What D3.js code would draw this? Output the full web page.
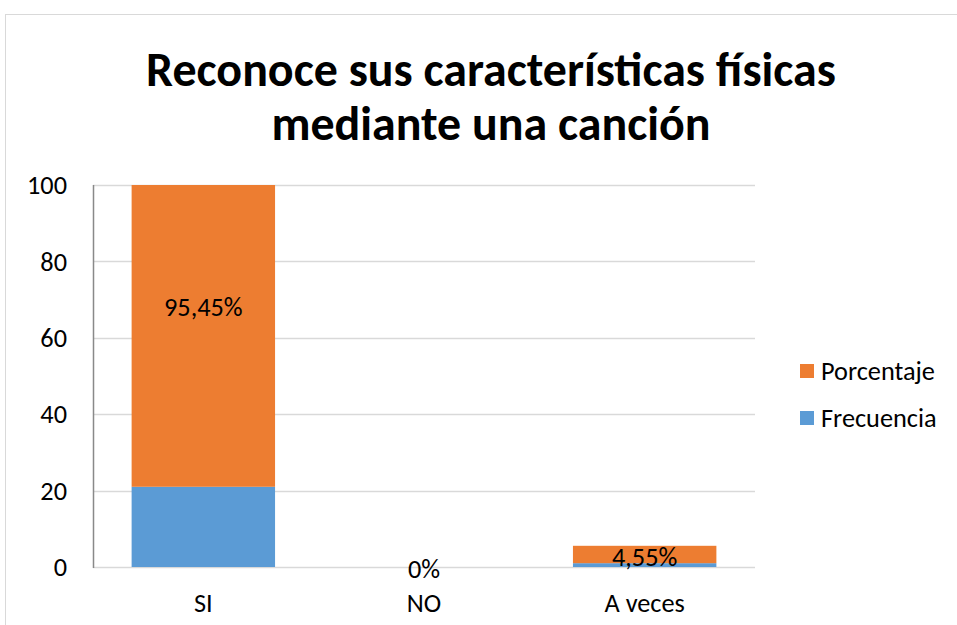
<!DOCTYPE html>
<html>
<head>
<meta charset="utf-8">
<script src="https://cdn.jsdelivr.net/npm/d3@7"></script>
<style>
  html, body { margin: 0; padding: 0; background: #fff; }
  svg { display: block; }
</style>
</head>
<body>
<svg id="chart" width="957" height="625"></svg>
<script>
// Data
const categories = ["SI", "NO", "A veces"];
const frecuencia = [21, 0, 1];
const porcentaje = [95.45, 0, 4.55];
const porcentajeLabels = ["95,45%", "0%", "4,55%"];
const yTicks = [0, 20, 40, 60, 80, 100];
const seriesNames = ["Frecuencia", "Porcentaje"];
const titleLines = ["Reconoce sus características físicas", "mediante una canción"];

const colors = { Frecuencia: "#5b9bd5", Porcentaje: "#ed7d31" };
const font = "Carlito, Lato, 'Open Sans', sans-serif";

const svg = d3.select("#chart");
const W = 957, H = 625;

// pick a font size so that a sample string spans the wanted width
function fitSize(sample, weight, wanted) {
  const t = svg.append("text")
    .attr("font-family", font).attr("font-weight", weight)
    .attr("font-size", 100).text(sample);
  const w = t.node().getComputedTextLength();
  t.remove();
  return 100 * wanted / w;
}
const titleSize = fitSize(titleLines[0], "bold", 690);
const bodySize = fitSize("Porcentaje", "normal", 114);

// chart area frame
svg.append("rect")
  .attr("x", 5.5).attr("y", 14.5)
  .attr("width", W + 10).attr("height", H + 10)
  .attr("fill", "#fff").attr("stroke", "#d9d9d9").attr("stroke-width", 1);

// title
svg.append("g").selectAll("text")
  .data(titleLines)
  .join("text")
  .attr("x", 491)
  .attr("y", (d, i) => 86 + i * 54)
  .attr("text-anchor", "middle")
  .attr("font-family", font)
  .attr("font-weight", "bold")
  .attr("font-size", titleSize)
  .attr("fill", "#000")
  .text(d => d);

const plot = { left: 93, right: 755, top: 185, bottom: 567 };

const x = d3.scaleBand()
  .domain(categories)
  .range([plot.left, plot.right])
  .paddingInner(0.35)
  .paddingOuter(0.175);

const y = d3.scaleLinear().domain([0, 100]).range([plot.bottom, plot.top]);

// gridlines
svg.append("g").selectAll("line")
  .data(yTicks)
  .join("line")
  .attr("x1", plot.left).attr("x2", plot.right)
  .attr("y1", d => Math.round(y(d)) + 0.5).attr("y2", d => Math.round(y(d)) + 0.5)
  .attr("stroke", "#d9d9d9").attr("stroke-width", 1.5);

// y tick labels
svg.append("g").selectAll("text")
  .data(yTicks)
  .join("text")
  .attr("x", 67)
  .attr("y", d => y(d))
  .attr("dy", "0.35em")
  .attr("text-anchor", "end")
  .attr("font-family", font)
  .attr("font-size", bodySize)
  .attr("fill", "#000")
  .text(d => d);

// stacked data
const rows = categories.map((c, i) => ({ cat: c, Frecuencia: frecuencia[i], Porcentaje: porcentaje[i], label: porcentajeLabels[i] }));
const stack = d3.stack().keys(seriesNames)(rows);

svg.append("defs").append("clipPath").attr("id", "plotClip")
  .append("rect")
  .attr("x", plot.left).attr("y", plot.top)
  .attr("width", plot.right - plot.left).attr("height", plot.bottom - plot.top);

const bars = svg.append("g").attr("clip-path", "url(#plotClip)");
stack.forEach(layer => {
  bars.append("g").attr("fill", colors[layer.key])
    .selectAll("rect")
    .data(layer)
    .join("rect")
    .attr("x", d => x(d.data.cat))
    .attr("width", x.bandwidth())
    .attr("y", d => y(d[1]))
    .attr("height", d => Math.max(0, y(d[0]) - y(d[1])));
});

// vertical axis line
svg.append("line")
  .attr("x1", plot.left + 0.5).attr("x2", plot.left + 0.5)
  .attr("y1", plot.top).attr("y2", plot.bottom + 1)
  .attr("stroke", "#898989").attr("stroke-width", 1.5);

// data labels for Porcentaje
const pLayer = stack.find(l => l.key === "Porcentaje");
svg.append("g").selectAll("text")
  .data(pLayer)
  .join("text")
  .attr("x", d => x(d.data.cat) + x.bandwidth() / 2)
  .attr("y", d => y((d[0] + d[1]) / 2) + 2)
  .attr("dy", "0.35em")
  .attr("text-anchor", "middle")
  .attr("font-family", font)
  .attr("font-size", bodySize)
  .attr("fill", "#000")
  .text(d => d.data.label);

// category labels
svg.append("g").selectAll("text")
  .data(categories)
  .join("text")
  .attr("x", d => x(d) + x.bandwidth() / 2)
  .attr("y", 603)
  .attr("dy", "0.35em")
  .attr("text-anchor", "middle")
  .attr("font-family", font)
  .attr("font-size", bodySize)
  .attr("fill", "#000")
  .text(d => d);

// legend
const legendItems = ["Porcentaje", "Frecuencia"];
const lg = svg.append("g").selectAll("g")
  .data(legendItems)
  .join("g")
  .attr("transform", (d, i) => `translate(800, ${371 + i * 47})`);
lg.append("rect")
  .attr("x", 0).attr("y", -7).attr("width", 14).attr("height", 14)
  .attr("fill", d => colors[d]);
lg.append("text")
  .attr("x", 21).attr("y", 0).attr("dy", "0.35em")
  .attr("font-family", font)
  .attr("font-size", bodySize)
  .attr("fill", "#000")
  .text(d => d);
</script>
</body>
</html>
